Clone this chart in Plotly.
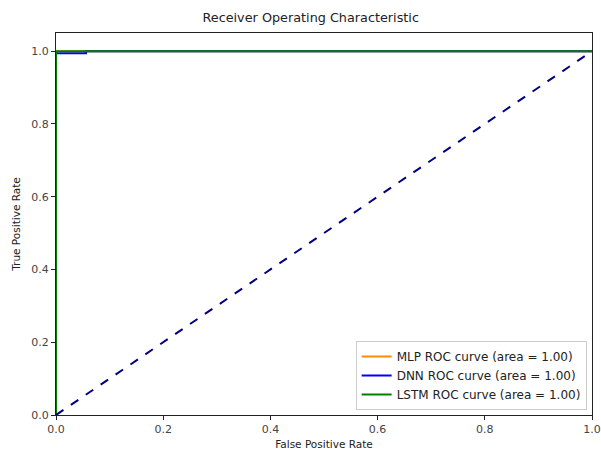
import plotly.graph_objects as go

mlp_fpr = [0.0, 0.0, 1.0]
mlp_tpr = [0.0, 1.0, 1.0]
dnn_fpr = [0.0, 0.0, 0.056, 0.056, 1.0]
dnn_tpr = [0.0, 0.994, 0.994, 1.0, 1.0]
lstm_fpr = [0.0, 0.0, 1.0]
lstm_tpr = [0.0, 1.0, 1.0]
diag_x = [0.0, 1.0]
diag_y = [0.0, 1.0]
tick_vals = [0, 0.2, 0.4, 0.6, 0.8, 1.0]
tick_text = ["0.0", "0.2", "0.4", "0.6", "0.8", "1.0"]

fig = go.Figure()
fig.add_trace(go.Scatter(x=mlp_fpr, y=mlp_tpr, mode="lines", line=dict(color="darkorange", width=2),
                         name="MLP ROC curve (area = 1.00)"))
fig.add_trace(go.Scatter(x=dnn_fpr, y=dnn_tpr, mode="lines", line=dict(color="blue", width=2),
                         name="DNN ROC curve (area = 1.00)"))
fig.add_trace(go.Scatter(x=lstm_fpr, y=lstm_tpr, mode="lines", line=dict(color="green", width=2),
                         name="LSTM ROC curve (area = 1.00)"))
fig.add_trace(go.Scatter(x=diag_x, y=diag_y, mode="lines", line=dict(color="navy", width=2, dash="dash"),
                         showlegend=False))

axis_common = dict(showgrid=False, zeroline=False, showline=True, linecolor="#222", linewidth=1,
                   mirror=True, ticks="outside", ticklen=4, tickcolor="#222",
                   tickfont=dict(size=11, color="#444"), automargin=False, ticklabeloverflow="allow")
fig.update_layout(
    width=601, height=450,
    margin=dict(l=56, r=9, t=33, b=35),
    paper_bgcolor="white", plot_bgcolor="white",
    font=dict(family="DejaVu Sans", color="black"),
    title=dict(text="Receiver Operating Characteristic", x=0.517, xanchor="center", y=0.96, yanchor="middle",
               font=dict(size=12.8, color="#222")),
    xaxis=dict(range=[0, 1], tickvals=tick_vals, ticktext=tick_text,
               title=dict(text="False Positive Rate", font=dict(size=10.5, color="#222"), standoff=6), **axis_common),
    yaxis=dict(range=[0, 1.05], tickvals=tick_vals, ticktext=tick_text,
               title=dict(text="True Positive Rate", font=dict(size=10.5, color="#222"), standoff=8), **axis_common),
    legend=dict(x=0.99, y=0.013, xanchor="right", yanchor="bottom", bordercolor="#ccc", borderwidth=1,
                bgcolor="rgba(255,255,255,0.8)", font=dict(size=12, color="#222"), tracegroupgap=0),
)
fig.write_html("out.html", config={"displayModeBar": False},
               post_script="document.body.style.margin='0';document.body.style.overflow='hidden';")
